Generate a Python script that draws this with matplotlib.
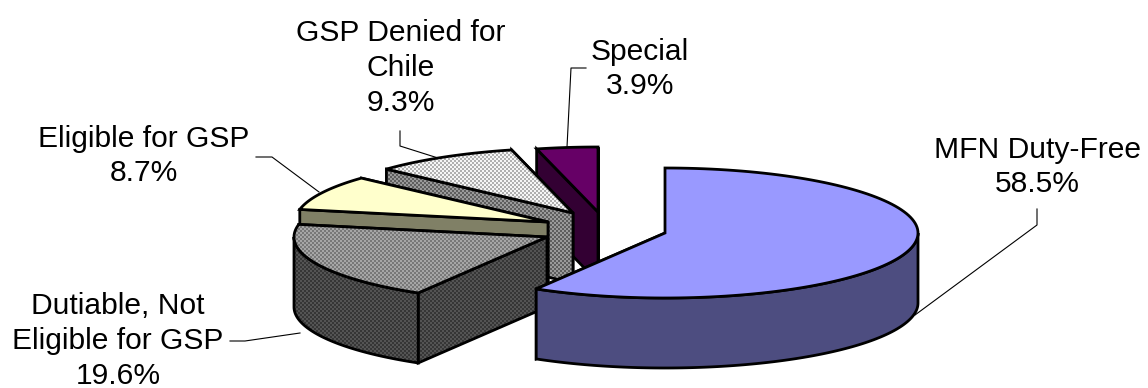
import matplotlib
matplotlib.use('Agg')
import matplotlib.pyplot as plt
import numpy as np
from matplotlib.patches import Polygon

#data, clockwise from 12 o'clock
labels = ['MFN Duty-Free', 'Dutiable, Not\nEligible for GSP', 'Eligible for GSP', 'GSP Denied for\nChile', 'Special']
shares = [58.5, 19.6, 8.7, 9.3, 3.9]

#pie shape in pixels
W, H = 1148, 388
a, b, depth = 253, 65, 70

#where each exploded slice has its centre
centres = [(665, 233), (547, 237), (548, 222), (573, 213), (598, 212)]

#colours: (top, side), a tuple is a two colour dither
tops = ['#9999ff', ('#a6a6a6', '#787878'), '#ffffcc', ('#f6f6f6', '#b0b0b0'), '#660066']
sides = ['#4d4d80', ('#545454', '#363636'), '#808066', ('#9a9a9a', '#5e5e5e'), '#330033']

#label placement
label_xy = [(1037, 167), (118, 341), (144, 156), (401, 68), (640, 69)]

#leader lines
leaders = [
    ([1037, 1037, 915], [209, 225, 315]),
    ([230, 245, 300], [341, 341, 333]),
    ([256, 272, 319], [157, 157, 192]),
    ([400, 400, 438], [131, 146, 158]),
    ([586, 571, 567], [68, 68, 147]),
]

fig = plt.figure(figsize=(W / 100, H / 100), dpi=100)
ax = fig.add_axes([0, 0, 1, 1])
plt.rcParams['font.family'] = ['Liberation Sans', 'DejaVu Sans']

yy, xx = np.indices((H, W))
checker = (xx // 2 + yy // 2) % 2
z = [1]


def face(pts, colour):
    z[0] += 1
    if isinstance(colour, tuple):
        rgb = np.array([matplotlib.colors.to_rgb(c) for c in colour])
        outline = Polygon(pts, closed=True, fc='none', ec='black', lw=2, joinstyle='miter', zorder=z[0] + 0.5)
        ax.add_patch(outline)
        im = ax.imshow(rgb[checker], extent=(0, W, H, 0), interpolation='nearest', aspect='auto', zorder=z[0])
        im.set_clip_path(Polygon(pts, closed=True, transform=ax.transData))
    else:
        ax.add_patch(Polygon(pts, closed=True, fc=colour, ec='black', lw=2, joinstyle='miter', zorder=z[0]))


def rim(t, cx, cy, drop=0):
    return np.column_stack([cx + a * np.sin(t), cy - b * np.cos(t) + drop])


#angles of each slice from the shares
edges = np.radians(np.cumsum([0] + shares) * 3.6)

#back slices first, the last ones sit in front
for i in range(len(shares) - 1, -1, -1):
    t0, t1 = edges[i], edges[i + 1]
    cx, cy = centres[i]
    apex = np.array([cx, cy])
    down = np.array([0, depth])
    start = rim(np.array([t0]), cx, cy)[0]
    end = rim(np.array([t1]), cx, cy)[0]

    #cut faces, the one looking away first
    face([end, apex, apex + down, end + down], sides[i])
    face([start, apex, apex + down, start + down], sides[i])

    #curved wall only where it looks to the front
    lo, hi = max(t0, np.pi / 2), min(t1, 3 * np.pi / 2)
    if hi > lo:
        t = np.linspace(lo, hi, 120)
        face(np.vstack([rim(t, cx, cy), rim(t[::-1], cx, cy, depth)]), sides[i])

    t = np.linspace(t0, t1, 120)
    face(np.vstack([apex, rim(t, cx, cy)]), tops[i])

z_top = z[0] + 1
for lx, ly in leaders:
    ax.plot(lx, ly, color='black', lw=0.8, zorder=0.5)

for name, share, (x, y) in zip(labels, shares, label_xy):
    ax.text(x, y, f'{name}\n{share:.1f}%', ha='center', va='center', fontsize=21.6,
            color='black', linespacing=1.3, zorder=z_top)

ax.set_xlim(0, W)
ax.set_ylim(H, 0)
ax.axis('off')
fig.savefig('out.png', dpi=100)
